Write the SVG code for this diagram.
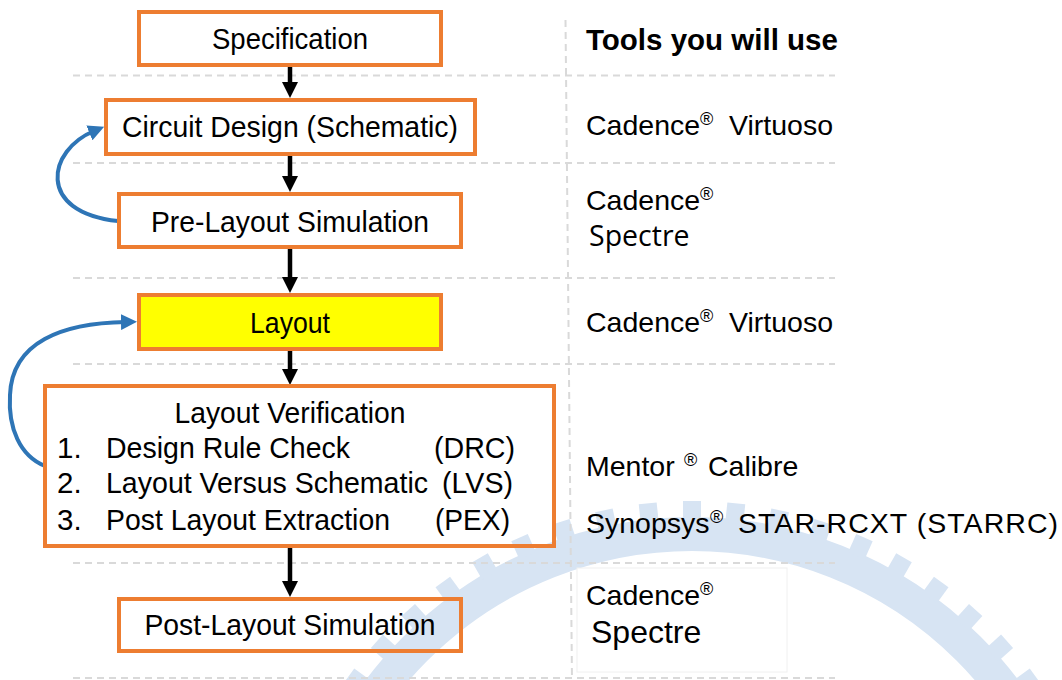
<svg xmlns="http://www.w3.org/2000/svg" width="1062" height="680" viewBox="0 0 1062 680">
<style>
.box{fill:none;stroke:#ed7d31;stroke-width:4}
.t{font-family:"Liberation Sans",Arial,sans-serif;font-size:28.5px;fill:#000}
.n{font-size:29.5px}
.c{text-anchor:middle}
.sup{font-size:18px}
.grid{stroke:#d9d9d9;stroke-width:2;stroke-dasharray:7 5;fill:none}
.flow{stroke:#000;stroke-width:4.5;fill:none;marker-end:url(#ah)}
.loop{stroke:#2e75b6;stroke-width:4;fill:none;marker-end:url(#bh)}
.tooth{fill:#d7e4f3}
</style>
<defs>
<marker id="ah" markerUnits="userSpaceOnUse" markerWidth="16" markerHeight="16" refX="5" refY="8" orient="auto"><path d="M0,0 L16,8 L0,16 z" fill="#000"/></marker>
<marker id="bh" markerUnits="userSpaceOnUse" markerWidth="16" markerHeight="16" refX="5" refY="8" orient="auto"><path d="M0,0 L16,8 L0,16 z" fill="#2e75b6"/></marker>
<rect id="tth" class="tooth" x="-9" y="-424" width="18" height="20"/>
</defs>
<rect width="1062" height="680" fill="#fff"/>
<g id="watermark">
<circle cx="692" cy="925" r="391" fill="none" stroke="#d7e4f3" stroke-width="34"/>
<g transform="translate(692,925)">
<use href="#tth" transform="rotate(-60)"/><use href="#tth" transform="rotate(-54)"/><use href="#tth" transform="rotate(-48)"/><use href="#tth" transform="rotate(-42)"/><use href="#tth" transform="rotate(-36)"/><use href="#tth" transform="rotate(-30)"/><use href="#tth" transform="rotate(-24)"/><use href="#tth" transform="rotate(-18)"/><use href="#tth" transform="rotate(-12)"/><use href="#tth" transform="rotate(-6)"/><use href="#tth"/><use href="#tth" transform="rotate(6)"/><use href="#tth" transform="rotate(12)"/><use href="#tth" transform="rotate(18)"/><use href="#tth" transform="rotate(24)"/><use href="#tth" transform="rotate(30)"/><use href="#tth" transform="rotate(36)"/><use href="#tth" transform="rotate(42)"/><use href="#tth" transform="rotate(48)"/><use href="#tth" transform="rotate(54)"/><use href="#tth" transform="rotate(60)"/>
</g>
</g>
<g id="grid">
<line class="grid" x1="73" y1="75.5" x2="835" y2="75.5"/>
<line class="grid" x1="73" y1="163" x2="835" y2="163"/>
<line class="grid" x1="73" y1="278" x2="835" y2="278"/>
<line class="grid" x1="73" y1="364" x2="835" y2="364"/>
<line class="grid" x1="73" y1="563" x2="835" y2="563"/>
<line class="grid" x1="73" y1="678" x2="835" y2="678"/>
<line class="grid" x1="565.5" y1="20" x2="572" y2="680"/>
</g>
<g id="spectre-box2"><rect x="577" y="568" width="210" height="104" fill="#fff" stroke="#f0f0f0" stroke-width="1"/></g>
<g id="connectors">
<line class="flow" x1="290" y1="66" x2="290" y2="87"/>
<line class="flow" x1="290" y1="155" x2="290" y2="181"/>
<line class="flow" x1="290" y1="248" x2="290" y2="282"/>
<line class="flow" x1="290" y1="350" x2="290" y2="374"/>
<line class="flow" x1="290" y1="547" x2="290" y2="586"/>
<path class="loop" d="M118,221 C35,212 48,150 94,131"/>
<path class="loop" d="M45,466 C20,456 8,428 10,395 C12,342 62,323 126,322"/>
</g>
<g id="spec"><rect class="box" x="139" y="12" width="302" height="53"/><text class="t n c" x="290" y="49" textLength="156" lengthAdjust="spacingAndGlyphs">Specification</text></g>
<g id="circuit"><rect class="box" x="106" y="100" width="369" height="54"/><text class="t n c" x="290" y="137" textLength="336" lengthAdjust="spacingAndGlyphs">Circuit Design (Schematic)</text></g>
<g id="prelayout"><rect class="box" x="119" y="194" width="342" height="53"/><text class="t n c" x="290" y="232" textLength="278" lengthAdjust="spacingAndGlyphs">Pre-Layout Simulation</text></g>
<g id="layout"><rect class="box" x="139" y="295" width="302" height="54" style="fill:#ffff00"/><text class="t n c" x="290" y="333" textLength="80" lengthAdjust="spacingAndGlyphs">Layout</text></g>
<g id="verification"><rect class="box" x="45" y="386" width="509" height="160"/>
<text class="t n c" x="290" y="423" textLength="231" lengthAdjust="spacingAndGlyphs">Layout Verification</text>
<text class="t n" x="57" y="458">1.</text><text class="t n" x="106" y="458" textLength="244" lengthAdjust="spacingAndGlyphs">Design Rule Check</text><text class="t n" x="434" y="458" textLength="81" lengthAdjust="spacingAndGlyphs">(DRC)</text>
<text class="t n" x="57" y="493">2.</text><text class="t n" x="106" y="493" textLength="322" lengthAdjust="spacingAndGlyphs">Layout Versus Schematic</text><text class="t n" x="442" y="493" textLength="71" lengthAdjust="spacingAndGlyphs">(LVS)</text>
<text class="t n" x="57" y="530">3.</text><text class="t n" x="106" y="530" textLength="284" lengthAdjust="spacingAndGlyphs">Post Layout Extraction</text><text class="t n" x="435" y="530" textLength="75" lengthAdjust="spacingAndGlyphs">(PEX)</text>
</g>
<g id="postlayout"><rect class="box" x="119" y="599" width="342" height="52"/><text class="t n c" x="290" y="635" textLength="291" lengthAdjust="spacingAndGlyphs">Post-Layout Simulation</text></g>
<g id="tools">
<text class="t" x="586" y="50" style="font-weight:bold;font-size:29.5px">Tools you will use</text>
<text class="t" x="586" y="135">Cadence<tspan class="sup" dy="-10">®</tspan><tspan x="729" dy="10">Virtuoso</tspan></text>
<text class="t" x="586" y="210">Cadence<tspan class="sup" dy="-10">®</tspan></text>
<text x="589" y="246" style="font-family:'Open Sans','Liberation Sans',sans-serif;font-size:28.5px">Spectre</text>
<text class="t" x="586" y="332">Cadence<tspan class="sup" dy="-10">®</tspan><tspan x="729" dy="10">Virtuoso</tspan></text>
<text class="t" x="586" y="476">Mentor<tspan class="sup" x="684" dy="-10">®</tspan><tspan x="708" dy="10">Calibre</tspan></text>
<text class="t" x="586" y="533">Synopsys<tspan class="sup" x="710" dy="-10">®</tspan><tspan x="738" dy="10" textLength="320" lengthAdjust="spacing">STAR-RCXT (STARRC)</tspan></text>
<text class="t" x="586" y="605">Cadence<tspan class="sup" dy="-10">®</tspan></text>
<text class="t" x="591" y="643" style="font-size:32px">Spectre</text>
</g>
</svg>
